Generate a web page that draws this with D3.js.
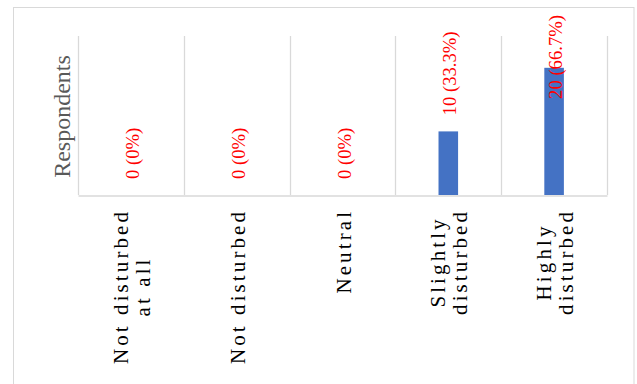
<!DOCTYPE html>
<html>
<head>
<meta charset="utf-8">
<script src="https://cdn.jsdelivr.net/npm/d3@7"></script>
<style>
  html, body { margin: 0; padding: 0; background: #fff; }
  svg { display: block; }
  text { font-family: "Liberation Serif", "Times New Roman", serif; }
</style>
</head>
<body>
<svg id="chart" width="637" height="384"></svg>
<script>
// ---- data ----
const categories = [
  ["Not disturbed", "at all"],
  ["Not disturbed"],
  ["Neutral"],
  ["Slightly", "disturbed"],
  ["Highly", "disturbed"]
];
const values = [0, 0, 0, 10, 20];
const percentLabels = ["0%", "0%", "0%", "33.3%", "66.7%"];
const yAxisTitle = "Respondents";
const yMax = 25;

// ---- layout ----
const W = 637, H = 384;
const plot = { left: 78, right: 607, top: 36, bottom: 195 };

const svg = d3.select("#chart");

// outer border
svg.append("rect")
  .attr("x", 13.5).attr("y", 7.5)
  .attr("width", 634 - 13.5).attr("height", H + 10)
  .attr("fill", "none").attr("stroke", "#d9d9d9").attr("stroke-width", 1);

const x = d3.scaleBand()
  .domain(d3.range(categories.length))
  .range([plot.left, plot.right])
  .paddingInner(0).paddingOuter(0);

const y = d3.scaleLinear().domain([0, yMax]).range([plot.bottom, plot.top]);

// vertical gridlines at category boundaries
const bounds = x.domain().map(i => x(i)).concat([plot.right]);
svg.append("g").selectAll("line").data(bounds).join("line")
  .attr("x1", d => Math.round(d) + 0.5).attr("x2", d => Math.round(d) + 0.5)
  .attr("y1", plot.top).attr("y2", plot.bottom)
  .attr("stroke", "#d9d9d9").attr("stroke-width", 1.3);

// bottom axis line via d3 axis (no ticks/labels)
const xAxis = svg.append("g")
  .attr("transform", `translate(0,${plot.bottom + 0.5})`)
  .call(d3.axisBottom(x).tickSize(0).tickFormat(""));
xAxis.select(".domain").attr("stroke", "#d9d9d9").attr("stroke-width", 1.3);

// bars
const barW = x.bandwidth() * 0.185;
svg.append("g").selectAll("rect").data(values).join("rect")
  .attr("x", (d, i) => x(i) + x.bandwidth() / 2 - barW / 2)
  .attr("y", d => y(d))
  .attr("width", barW)
  .attr("height", d => y(0) - y(d))
  .attr("fill", "#4472C4");

// data labels (rotated)
const labelFont = 18.67;
svg.append("g").selectAll("text").data(values).join("text")
  .attr("font-size", labelFont)
  .attr("fill", "#FF0000")
  .text((d, i) => `${d} (${percentLabels[i]})`)
  .each(function (d, i) {
    const len = this.getComputedTextLength();
    const cx = x(i) + x.bandwidth() / 2 + 8;
    const startY = Math.max(y(d) - 16, 15 + len);
    d3.select(this).attr("transform", `translate(${cx},${startY}) rotate(-90)`);
  });

// category labels (rotated, letter-spaced, multi-line)
const catFont = 21, ls = 3.1, lineGap = 22, catTop = 212;
categories.forEach((lines, i) => {
  const g = svg.append("g")
    .attr("transform", `translate(${x(i) + x.bandwidth() / 2},${catTop}) rotate(-90)`);
  const texts = lines.map((t, j) => g.append("text")
    .attr("font-size", catFont)
    .attr("letter-spacing", ls)
    .attr("fill", "#000")
    .attr("y", 8 + (j - (lines.length - 1) / 2) * lineGap)
    .text(t));
  const lens = texts.map(t => t.node().getComputedTextLength() - ls);
  const maxLen = d3.max(lens);
  texts.forEach((t, j) => t.attr("x", -maxLen / 2 - lens[j] / 2));
});

// y axis title
svg.append("text")
  .attr("transform", `translate(70,${(plot.top + plot.bottom) / 2 + 1}) rotate(-90)`)
  .attr("text-anchor", "middle")
  .attr("font-size", 24)
  .attr("fill", "#595959")
  .text(yAxisTitle);
</script>
</body>
</html>
